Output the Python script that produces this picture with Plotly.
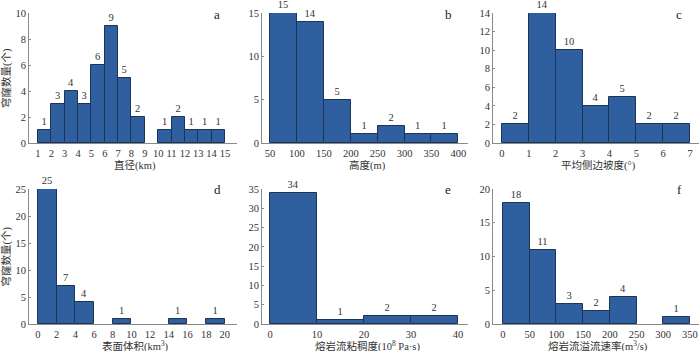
import plotly.graph_objects as go

# bin edges and counts
edges_a = list(range(1, 16))
counts_a = [1, 3, 4, 3, 6, 9, 5, 2, 0, 1, 2, 1, 1, 1]

edges_b = [50, 100, 150, 200, 250, 300, 350, 400]
counts_b = [15, 14, 5, 1, 2, 1, 1]

edges_c = [0, 1, 2, 3, 4, 5, 6, 7]
counts_c = [2, 14, 10, 4, 5, 2, 2]

edges_d = [0, 2, 4, 6, 8, 10, 12, 14, 16, 18, 20]
counts_d = [25, 7, 4, 0, 1, 0, 0, 1, 0, 1]

edges_e = [0, 10, 20, 30, 40]
counts_e = [34, 1, 2, 2]

edges_f = [0, 50, 100, 150, 200, 250, 300, 350]
counts_f = [18, 11, 3, 2, 4, 0, 1]

y_title = "穹窿数量(个)"
x_titles = ["直径(km)", "高度(m)", "平均侧边坡度(°)",
            "表面体积(km<sup>3</sup>)", "熔岩流粘稠度(10<sup>8</sup> Pa·s)",
            "熔岩流溢流速率(m<sup>3</sup>/s)"]
letters = ["a", "b", "c", "d", "e", "f"]

FONT = "Liberation Serif, Times New Roman, Noto Sans CJK SC, serif"
BAR = "#2f5f9f"
EDGE = "#1c3557"
AXIS = "#8a8a8a"
TXT = "#333333"

W, H = 700, 351


def px(x):
    return x / W


def py(y):
    return (H - y) / H


panels = [
    (edges_a, counts_a, [0.33, 15.9], 1, [0, 10], 2),
    (edges_b, counts_b, [35, 418], 50, [0, 15], 5),
    (edges_c, counts_c, [-0.33, 7.33], 1, [0, 14], 2),
    (edges_d, counts_d, [-0.96, 21.3], 2, [0, 25], 5),
    (edges_e, counts_e, [-1.7, 42.1], 10, [0, 35], 5),
    (edges_f, counts_f, [-18.7, 367], 50, [0, 20], 5),
]

xdoms = [[px(29), px(237)], [px(262), px(468)], [px(493), px(699)]]
ydoms = [[py(143), py(13)], [py(324), py(189)]]

fig = go.Figure()
annotations = []

for i, (edges, counts, xr, dx, yr, dy) in enumerate(panels):
    n = i + 1
    xa = "x" if n == 1 else "x%d" % n
    ya = "y" if n == 1 else "y%d" % n
    centers = [(edges[k] + edges[k + 1]) / 2 for k in range(len(counts))]
    widths = [edges[k + 1] - edges[k] for k in range(len(counts))]
    labels = [str(c) if c > 0 else "" for c in counts]
    lw = [1 if c > 0 else 0 for c in counts]
    fig.add_trace(go.Bar(
        x=centers, y=counts, width=widths, text=labels,
        textposition="outside", cliponaxis=False,
        textfont=dict(family=FONT, size=10.5, color=TXT),
        marker=dict(color=BAR, line=dict(color=EDGE, width=lw)),
        xaxis=xa, yaxis=ya, showlegend=False,
    ))
    row, col = divmod(i, 3)
    ax = dict(
        domain=xdoms[col], anchor=ya, range=xr, tick0=edges[0], dtick=dx,
        showline=True, linecolor=AXIS, linewidth=1, showgrid=False,
        zeroline=False, ticks="", automargin=False, ticklabeloverflow="allow",
        tickfont=dict(family=FONT, size=10.5, color=TXT),
    )
    ay = dict(
        domain=ydoms[row], anchor=xa, range=yr, dtick=dy,
        showline=True, linecolor=AXIS, linewidth=1, showgrid=False,
        zeroline=False, ticks="inside", ticklen=2, tickcolor=AXIS,
        automargin=False, ticklabeloverflow="allow",
        tickfont=dict(family=FONT, size=10.5, color=TXT),
    )
    fig.layout["xaxis" if n == 1 else "xaxis%d" % n] = ax
    fig.layout["yaxis" if n == 1 else "yaxis%d" % n] = ay

    # panel letter in the top right corner
    annotations.append(dict(
        text=letters[i], xref="paper", yref="paper",
        x=xdoms[col][1] - 20 / W, y=ydoms[row][1] - 1 / H,
        xanchor="center", yanchor="middle", showarrow=False,
        font=dict(family=FONT, size=13, color="#222222"),
    ))
    # x title under the axis
    annotations.append(dict(
        text=x_titles[i], xref="paper", yref="paper",
        x=(xdoms[col][0] + xdoms[col][1]) / 2 + 2 / W,
        y=ydoms[row][0] - 22 / H,
        xanchor="center", yanchor="middle", showarrow=False,
        font=dict(family=FONT, size=10.5, color=TXT),
    ))
    if col == 0:
        annotations.append(dict(
            text=y_title, xref="paper", yref="paper",
            x=px(6), y=(ydoms[row][0] + ydoms[row][1]) / 2,
            xanchor="center", yanchor="middle", textangle=-90,
            showarrow=False, font=dict(family=FONT, size=10.5, color=TXT),
        ))

fig.update_layout(
    width=W, height=H,
    margin=dict(l=0, r=0, t=0, b=0),
    paper_bgcolor="white", plot_bgcolor="white",
    bargap=0, annotations=annotations,
)

# drop the default 8px body margin so the figure fills the window
fig.write_html("out.html", config={"displayModeBar": False},
               post_script="document.body.style.margin = '0px';")
